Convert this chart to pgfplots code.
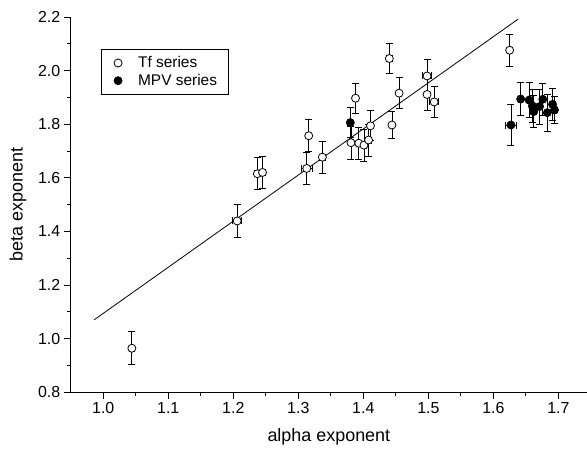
\documentclass[border=0pt]{standalone}
\usepackage{fontspec}
\setmainfont{Liberation Sans}
\usepackage{pgfplots}
\usepackage{pgfplotstable}
\pgfplotsset{compat=1.18}

\pgfplotstableread{
x      y      ex     ey
1.044  0.964  0.004  0.062
1.206  1.439  0.007  0.060
1.237  1.615  0.005  0.060
1.245  1.620  0.004  0.060
1.313  1.635  0.008  0.060
1.316  1.757  0.003  0.060
1.337  1.677  0.004  0.060
1.388  1.897  0.003  0.057
1.381  1.731  0.003  0.062
1.393  1.729  0.003  0.060
1.401  1.722  0.003  0.060
1.408  1.741  0.004  0.060
1.411  1.794  0.003  0.056
1.440  2.045  0.005  0.055
1.455  1.916  0.003  0.058
1.444  1.797  0.003  0.049
1.498  1.980  0.007  0.060
1.498  1.911  0.003  0.060
1.509  1.883  0.007  0.058
1.625  2.076  0.003  0.060
}\tfdata

\pgfplotstableread{
x      y      ex     ey
1.380  1.806  0.003  0.056
1.627  1.797  0.009  0.077
1.642  1.894  0.003  0.063
1.655  1.890  0.003  0.065
1.660  1.868  0.003  0.060
1.662  1.847  0.003  0.060
1.671  1.866  0.003  0.065
1.676  1.893  0.003  0.060
1.683  1.843  0.003  0.070
1.691  1.874  0.003  0.060
1.694  1.853  0.003  0.050
}\mpvdata

\pgfplotstableread{
x      y
0.986  1.070
1.638  2.192
}\fitdata

\begin{document}
\begin{tikzpicture}
\begin{axis}[
  scale only axis,
  width=516bp, height=375bp,
  xmin=0.95, xmax=1.744, ymin=0.8, ymax=2.2,
  axis x line*=bottom, axis y line*=left,
  axis line style={line width=1bp, black},
  xtick={1.0,1.1,1.2,1.3,1.4,1.5,1.6,1.7},
  ytick={0.8,1.0,1.2,1.4,1.6,1.8,2.0,2.2},
  minor x tick num=1, minor y tick num=1,
  tick align=outside,
  major tick length=7bp, minor tick length=4bp,
  every tick/.style={line width=1bp, black},
  xticklabel style={font=\fontsize{16}{18}\selectfont},
  yticklabel style={font=\fontsize{16}{18}\selectfont},
  /pgf/number format/.cd, fixed, fixed zerofill, precision=1, assume math mode=true,
  /pgfplots/.cd,
  xlabel={alpha exponent}, ylabel={beta exponent},
  xlabel style={font=\fontsize{18}{20}\selectfont, at={(axis description cs:0.5,-0.12)}, anchor=center},
  ylabel style={font=\fontsize{18}{20}\selectfont, at={(axis description cs:-0.102,0.5)}, anchor=center},
  legend style={at={(0.058,0.914)}, anchor=north west, draw=black, line width=0.8bp,
    font=\fontsize{15.5}{17}\selectfont, inner xsep=9bp, inner ysep=5bp,
    row sep=1bp, cells={anchor=west}},
  legend cell align=left,
  clip=false,
]
\addplot[only marks, mark=*, mark size=4bp,
  mark options={fill=white, draw=black, line width=0.8bp},
  legend image code/.code={\path[draw=none] (0bp,0bp) (26bp,0bp);
    \draw[draw=none] plot[mark=*, mark size=4bp, mark options={fill=white, draw=black, line width=0.8bp}] coordinates {(8bp,0bp)};},
  error bars/.cd, x dir=both, x explicit, y dir=both, y explicit,
  error bar style={line width=0.8bp, black},
  error mark options={rotate=90, line width=0.8bp, mark size=3.5bp, black}]
  table[x=x, y=y, x error=ex, y error=ey] {\tfdata};
\addlegendentry{Tf series}
\addplot[only marks, mark=*, mark size=4bp,
  mark options={fill=black, draw=black, line width=0.8bp},
  legend image code/.code={\path[draw=none] (0bp,0bp) (26bp,0bp);
    \draw[draw=none] plot[mark=*, mark size=4bp, mark options={fill=black, draw=black, line width=0.8bp}] coordinates {(8bp,0bp)};},
  error bars/.cd, x dir=both, x explicit, y dir=both, y explicit,
  error bar style={line width=0.8bp, black},
  error mark options={rotate=90, line width=0.8bp, mark size=3.5bp, black}]
  table[x=x, y=y, x error=ex, y error=ey] {\mpvdata};
\addlegendentry{MPV series}
\addplot[black, line width=0.8bp, forget plot] table[x=x, y=y] {\fitdata};
\end{axis}
\pgfresetboundingbox
\path[use as bounding box] ([xshift=-70.7bp, yshift=-56.7bp]current axis.south west) rectangle ([yshift=17bp]current axis.north east);
\end{tikzpicture}
\end{document}
